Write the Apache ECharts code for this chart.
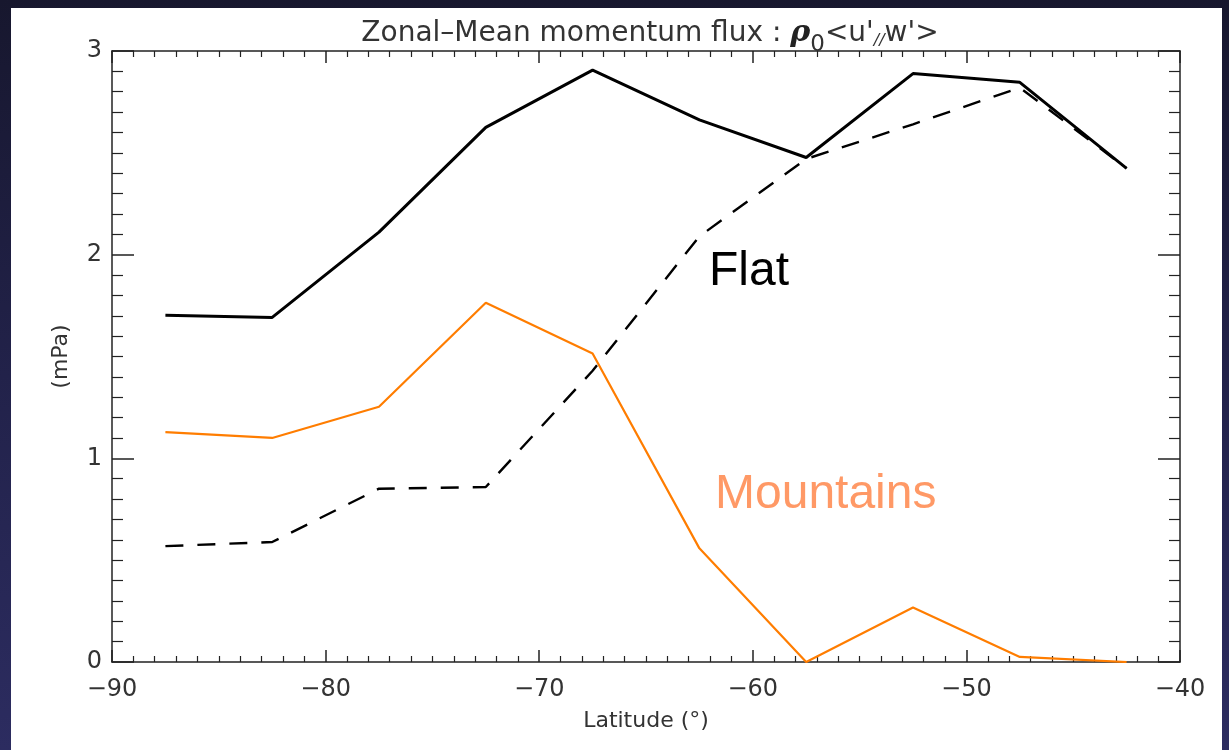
<!DOCTYPE html>
<html>
<head>
<meta charset="utf-8">
<script src="https://cdn.jsdelivr.net/npm/echarts@6/dist/echarts.min.js"></script>
<style>
html,body{margin:0;padding:0;width:1229px;height:750px;overflow:hidden;background:linear-gradient(to bottom,#17172e 0%,#22224a 50%,#2c2c60 100%);}
#paper{position:absolute;left:11px;top:8px;width:1211px;height:742px;background:#fff;}
#chart{position:absolute;left:0;top:0;width:1229px;height:750px;}
</style>
</head>
<body>
<div id="paper"></div>
<div id="chart"></div>
<script>
// Data
const latitudes = [-87.5, -82.5, -77.5, -72.5, -67.5, -62.5, -57.5, -52.5, -47.5, -42.5];
const flatSolid = [1.703, 1.692, 2.111, 2.625, 2.906, 2.662, 2.477, 2.889, 2.846, 2.424];
const flatDashed = [0.569, 0.589, 0.851, 0.859, 1.43, 2.09, 2.47, 2.64, 2.82, 2.424];
const mountains = [1.129, 1.100, 1.253, 1.764, 1.515, 0.558, 0.0, 0.268, 0.025, 0.0];
const xTicks = [-90, -80, -70, -60, -50, -40];
const yTicks = [0, 1, 2, 3];

const pairs = vals => latitudes.map((x, i) => [x, vals[i]]);

const chart = echarts.init(document.getElementById('chart'), null, {renderer: 'canvas'});
const axisColor = '#222';
const labelFont = {fontFamily: 'DejaVu Sans', color: '#333', fontSize: 24};

const baseX = {
  type: 'value', min: xTicks[0], max: xTicks[xTicks.length - 1], interval: 10,
  axisLine: {show: true, onZero: false, lineStyle: {color: axisColor, width: 1.5}},
  axisTick: {show: true, inside: true, length: 12, lineStyle: {color: axisColor, width: 1.5}},
  minorTick: {show: true, splitNumber: 10, length: 6, lineStyle: {color: axisColor, width: 1.2}},
  splitLine: {show: false}
};
const baseY = {
  type: 'value', min: yTicks[0], max: yTicks[yTicks.length - 1], interval: 1,
  axisLine: {show: true, onZero: false, lineStyle: {color: axisColor, width: 1.5}},
  axisTick: {show: true, inside: true, length: 22, lineStyle: {color: axisColor, width: 1.5}},
  minorTick: {show: true, splitNumber: 10, length: 11, lineStyle: {color: axisColor, width: 1.2}},
  splitLine: {show: false}
};

chart.setOption({
  animation: false,
  backgroundColor: 'transparent',
  title: {
    text: "Zonal–Mean momentum flux : {rho|ρ}{sub|0}<u'{sub2|//}w'>",
    left: 645, top: 5, textAlign: 'center',
    textStyle: {
      fontFamily: 'DejaVu Sans', fontWeight: 'normal', fontSize: 28, color: '#333',
      rich: {
        rho: {fontFamily: 'DejaVu Serif', fontStyle: 'italic', fontWeight: 'bold', fontSize: 30, color: '#222'},
        sub: {fontFamily: 'DejaVu Sans', fontSize: 23, color: '#333', padding: [24, 0, 0, 0]},
        sub2: {fontFamily: 'DejaVu Sans', fontSize: 16, color: '#333', fontStyle: 'italic', padding: [14, 0, 0, 0]}
      }
    }
  },
  grid: {left: 112, top: 51, right: 49, bottom: 88, containLabel: false},
  xAxis: [
    Object.assign({}, baseX, {
      position: 'bottom',
      name: 'Latitude (°)', nameLocation: 'middle', nameGap: 48,
      nameTextStyle: {fontFamily: 'DejaVu Sans', color: '#333', fontSize: 22},
      axisLabel: Object.assign({margin: 16}, labelFont, {formatter: v => (v < 0 ? '−' + Math.abs(v) : '' + v)})
    }),
    Object.assign({}, baseX, {position: 'top', axisLabel: {show: false}})
  ],
  yAxis: [
    Object.assign({}, baseY, {
      position: 'left',
      name: '(mPa)', nameLocation: 'middle', nameGap: 40, nameRotate: 90,
      nameTextStyle: {fontFamily: 'DejaVu Sans', color: '#333', fontSize: 22},
      axisLabel: Object.assign({margin: 10}, labelFont)
    }),
    Object.assign({}, baseY, {position: 'right', axisLabel: {show: false}})
  ],
  series: [
    {
      name: 'Flat', type: 'line', data: pairs(flatSolid), symbol: 'none',
      lineStyle: {color: '#000', width: 3}, z: 3
    },
    {
      name: 'Flat dashed', type: 'line', data: pairs(flatDashed), symbol: 'none',
      lineStyle: {color: '#000', width: 2.4, type: [18, 14]}, z: 2
    },
    {
      name: 'Mountains', type: 'line', data: pairs(mountains), symbol: 'none',
      lineStyle: {color: '#ff7d00', width: 2.2}, z: 2
    }
  ],
  graphic: [
    {type: 'text', left: 709, top: 248, style: {text: 'Flat', fontFamily: 'Liberation Sans', fontSize: 48, fill: '#000'}},
    {type: 'text', left: 715, top: 471, style: {text: 'Mountains', fontFamily: 'Liberation Sans', fontSize: 48, fill: '#ff9966'}}
  ]
});
</script>
</body>
</html>
